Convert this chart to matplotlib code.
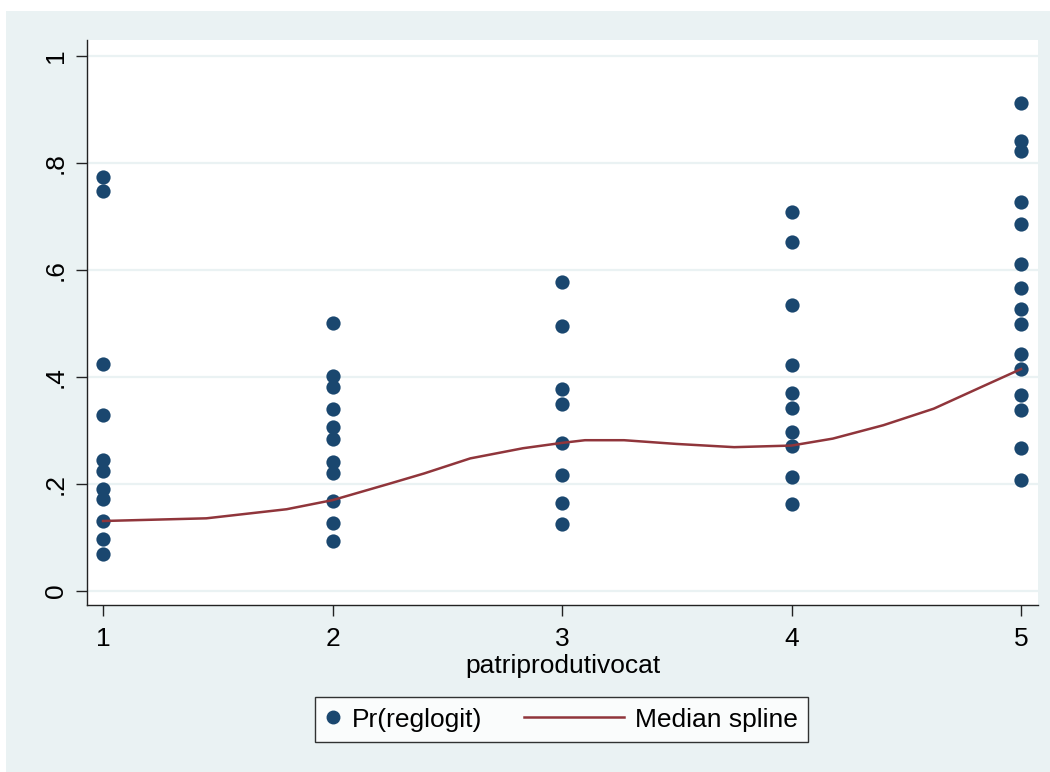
import matplotlib
matplotlib.use("Agg")
import matplotlib.pyplot as plt
from matplotlib.lines import Line2D
from matplotlib.legend_handler import HandlerBase
from matplotlib.patches import Rectangle

plt.rcParams["font.family"] = ["Liberation Sans", "DejaVu Sans"]

# ─── data ─────────────────────────────────────────────────────────
cat_1 = [0.774, 0.748, 0.424, 0.330, 0.245, 0.225, 0.190, 0.172, 0.131, 0.097, 0.070]
cat_2 = [0.501, 0.402, 0.382, 0.340, 0.307, 0.284, 0.241, 0.220, 0.168, 0.128, 0.094]
cat_3 = [0.578, 0.495, 0.377, 0.350, 0.277, 0.217, 0.165, 0.125]
cat_4 = [0.708, 0.652, 0.535, 0.422, 0.371, 0.343, 0.297, 0.272, 0.213, 0.162]
cat_5 = [0.912, 0.841, 0.822, 0.727, 0.686, 0.611, 0.566, 0.528, 0.500,
         0.444, 0.416, 0.366, 0.338, 0.267, 0.207]
groups = [cat_1, cat_2, cat_3, cat_4, cat_5]

spline_x = [1, 1.45, 1.8, 2, 2.25, 2.4, 2.6, 2.83, 3, 3.1, 3.27, 3.5, 3.75,
            4, 4.18, 4.4, 4.62, 4.83, 5]
spline_y = [0.131, 0.136, 0.153, 0.170, 0.201, 0.220, 0.248, 0.267, 0.277, 0.282,
            0.282, 0.275, 0.269, 0.272, 0.285, 0.310, 0.341, 0.382, 0.415]

y_ticks = [0, 0.2, 0.4, 0.6, 0.8, 1]
y_labels = ["0", ".2", ".4", ".6", ".8", "1"]
x_ticks = [1, 2, 3, 4, 5]

NAVY = "#1A476F"
MAROON = "#90353B"
BG = "#EAF2F3"
FS = 19


class WideLine(HandlerBase):
    # line handle that reaches out to the left of its (narrow) handle box
    def create_artists(self, legend, orig_handle, xdescent, ydescent,
                       width, height, fontsize, trans):
        y = height / 2 - ydescent
        x1 = width - xdescent
        x0 = x1 - 3.8 * fontsize
        ln = Line2D([x0, x1], [y, y], color=orig_handle.get_color(),
                    lw=orig_handle.get_linewidth())
        ln.set_transform(trans)
        return [ln]


class RightDot(HandlerBase):
    def create_artists(self, legend, orig_handle, xdescent, ydescent,
                       width, height, fontsize, trans):
        y = height / 2 - ydescent
        x = width - xdescent - 5.4
        m = Line2D([x], [y], ls="none", marker="o", markersize=9,
                   color=orig_handle.get_color())
        m.set_transform(trans)
        return [m]


fig = plt.figure(figsize=(10.5, 7.72), dpi=100, facecolor="white")
fig.patches.append(Rectangle((6 / 1050, 0), 1, 1 - 11 / 772, transform=fig.transFigure,
                             facecolor=BG, edgecolor="none", zorder=-10))

ax = fig.add_axes([87 / 1050, 1 - 605 / 772, (1038 - 87) / 1050, (605 - 40) / 772])
ax.set_facecolor("white")

for cat, vals in zip(x_ticks, groups):
    ax.scatter([cat] * len(vals), vals, s=105, color=NAVY, linewidths=0, zorder=3)

ax.plot(spline_x, spline_y, color=MAROON, lw=1.8, zorder=4)

ax.set_xlim(0.93, 5.074)
ax.set_ylim(-0.026, 1.03)
ax.set_yticks(y_ticks)
ax.set_yticklabels(y_labels, rotation=90, va="center")
ax.set_xticks(x_ticks)
ax.set_xticklabels([str(t) for t in x_ticks])
ax.grid(axis="y", color=BG, lw=1.6)
ax.set_axisbelow(True)

for side in ["top", "right"]:
    ax.spines[side].set_visible(False)
for side in ["left", "bottom"]:
    ax.spines[side].set_color("#222222")
    ax.spines[side].set_linewidth(1.0)
ax.tick_params(axis="both", direction="out", length=8, width=1.0,
               color="#222222", labelsize=FS, pad=6)
ax.tick_params(axis="x", pad=8)
ax.set_xlabel("patriprodutivocat", fontsize=FS, labelpad=2)

h_dot = Line2D([], [], color=NAVY, marker="o", ls="none")
h_line = Line2D([], [], color=MAROON, lw=1.8)
leg = fig.legend([h_dot, h_line], ["Pr(reglogit)", "Median spline"],
                 handler_map={h_dot: RightDot(), h_line: WideLine()},
                 loc="center", bbox_to_anchor=(561.5 / 1050, 1 - 719.5 / 772),
                 ncol=2, fontsize=FS, frameon=True, fancybox=False,
                 handlelength=0.6, handletextpad=0.4, columnspacing=4.8,
                 borderpad=0.4, borderaxespad=0)
leg.get_frame().set_edgecolor("black")
leg.get_frame().set_linewidth(1.0)
leg.get_frame().set_facecolor("white")

fig.savefig("out.png", dpi=100, facecolor=fig.get_facecolor())
